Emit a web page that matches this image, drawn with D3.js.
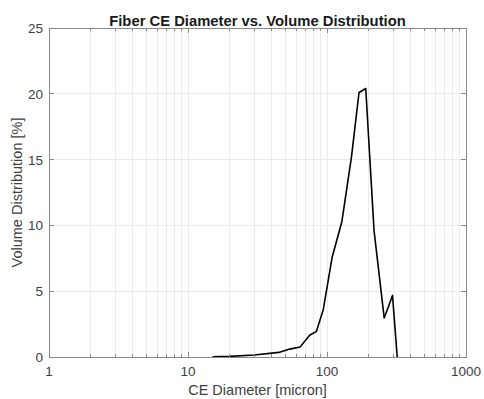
<!DOCTYPE html>
<html>
<head>
<meta charset="utf-8">
<script src="https://cdn.jsdelivr.net/npm/d3@7"></script>
<style>
  html, body { margin: 0; padding: 0; background: #fff; }
  svg { display: block; font-family: "Liberation Sans", Arial, Helvetica, sans-serif; }
</style>
</head>
<body>
<svg id="chart" width="484" height="399"></svg>
<script>
// Particle size distribution: CE diameter (micron) vs volume share (%)
const diameters = [15, 20, 30, 45, 54, 64, 75, 84, 94, 109, 128, 150, 170, 190, 218, 258, 296, 320];
const volumePct = [0.02, 0.05, 0.15, 0.35, 0.6, 0.76, 1.65, 1.95, 3.6, 7.6, 10.3, 15.2, 20.1, 20.4, 9.6, 2.96, 4.68, 0];

const xTickValues = [1, 10, 100, 1000];
const xTickLabels = ["1", "10", "100", "1000"];
const yTickValues = [0, 5, 10, 15, 20, 25];

const titleText = "Fiber CE Diameter vs. Volume Distribution";
const xLabelText = "CE Diameter [micron]";
const yLabelText = "Volume Distribution [%]";

const svg = d3.select("#chart");
const margin = { left: 49, right: 18, top: 28, bottom: 42 };
const W = 484, H = 399;
const x0 = margin.left, x1 = W - margin.right;
const y0 = H - margin.bottom, y1 = margin.top;

const x = d3.scaleLog().domain([1, 1000]).range([x0, x1]);
const y = d3.scaleLinear().domain([0, 25]).range([y0, y1]);

const axisColor = "#8a8a8a";
const textColor = "#404040";
const gridColor = "#ebebeb";

// minor + major vertical grid lines (log decades)
const minorX = [];
for (let d = 1; d < 1000; d *= 10) {
  for (let k = 1; k < 10; k++) minorX.push(d * k);
}
minorX.push(1000);

svg.append("g").selectAll("line").data(minorX.filter(v => v > 1 && v < 1000)).join("line")
  .attr("x1", d => x(d)).attr("x2", d => x(d))
  .attr("y1", y0).attr("y2", y1)
  .attr("stroke", gridColor).attr("stroke-width", 1)
  .attr("shape-rendering", "crispEdges");

svg.append("g").selectAll("line").data(yTickValues.filter(v => v > 0 && v < 25)).join("line")
  .attr("x1", x0).attr("x2", x1)
  .attr("y1", d => y(d)).attr("y2", d => y(d))
  .attr("stroke", gridColor).attr("stroke-width", 1)
  .attr("shape-rendering", "crispEdges");

// data line
const line = d3.line().x((d, i) => x(diameters[i])).y(d => y(d));
svg.append("path")
  .datum(volumePct)
  .attr("d", line)
  .attr("fill", "none")
  .attr("stroke", "#000")
  .attr("stroke-width", 1.6)
  .attr("stroke-linejoin", "round");

// axes box
svg.append("rect")
  .attr("x", x0).attr("y", y1)
  .attr("width", x1 - x0).attr("height", y0 - y1)
  .attr("fill", "none").attr("stroke", axisColor).attr("stroke-width", 1)
  .attr("shape-rendering", "crispEdges");

// inward tick marks on x (bottom and top), major longer than minor
const tickMarks = svg.append("g").attr("stroke", axisColor).attr("shape-rendering", "crispEdges");
minorX.forEach(v => {
  const major = xTickValues.includes(v);
  const len = major ? 5 : 3;
  tickMarks.append("line").attr("x1", x(v)).attr("x2", x(v)).attr("y1", y0).attr("y2", y0 - len);
  tickMarks.append("line").attr("x1", x(v)).attr("x2", x(v)).attr("y1", y1).attr("y2", y1 + len);
});
yTickValues.forEach(v => {
  tickMarks.append("line").attr("x1", x0).attr("x2", x0 + 5).attr("y1", y(v)).attr("y2", y(v));
  tickMarks.append("line").attr("x1", x1).attr("x2", x1 - 5).attr("y1", y(v)).attr("y2", y(v));
});

// tick labels
svg.append("g").selectAll("text").data(xTickValues).join("text")
  .attr("x", d => x(d)).attr("y", y0 + 19)
  .attr("text-anchor", "middle")
  .attr("font-size", 13.5).attr("fill", textColor)
  .text((d, i) => xTickLabels[i]);

svg.append("g").selectAll("text").data(yTickValues).join("text")
  .attr("x", x0 - 6).attr("y", d => y(d) + 5)
  .attr("text-anchor", "end")
  .attr("font-size", 13.5).attr("fill", textColor)
  .text(d => d);

// title and axis labels
svg.append("text")
  .attr("x", (x0 + x1) / 2).attr("y", 25.5)
  .attr("text-anchor", "middle")
  .attr("font-size", 14.8).attr("font-weight", "bold").attr("fill", "#1a1a1a")
  .text(titleText);

svg.append("text")
  .attr("x", (x0 + x1) / 2).attr("y", 395)
  .attr("text-anchor", "middle")
  .attr("font-size", 14.5).attr("fill", textColor)
  .text(xLabelText);

svg.append("text")
  .attr("transform", `translate(22,${(y0 + y1) / 2}) rotate(-90)`)
  .attr("text-anchor", "middle")
  .attr("font-size", 14.5).attr("fill", textColor)
  .text(yLabelText);
</script>
</body>
</html>
